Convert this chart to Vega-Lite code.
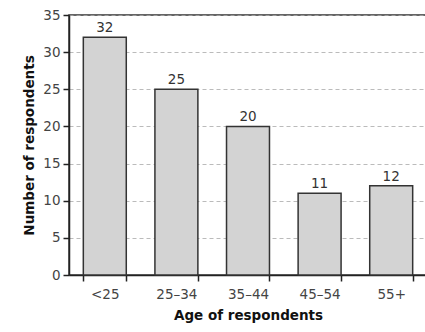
{
  "$schema": "https://vega.github.io/schema/vega-lite/v6.json",
  "autosize": {"type": "none"},
  "padding": {"left": 69, "top": 15, "right": 0, "bottom": 57},
  "width": 358,
  "height": 260,
  "data": {"values": [
    {"age": "<25", "n": 32},
    {"age": "25–34", "n": 25},
    {"age": "35–44", "n": 20},
    {"age": "45–54", "n": 11},
    {"age": "55+", "n": 12}
  ]},
  "config": {
    "font": "DejaVu Sans",
    "view": {"stroke": "#333", "strokeWidth": 1.5},
    "axis": {"labelColor": "#444", "titleColor": "#111", "domainColor": "#222", "tickColor": "#222", "labelFontSize": 13.5, "titleFontSize": 13.5, "titleFontWeight": "bold"}
  },
  "encoding": {
    "x": {"field": "age", "type": "nominal", "sort": null,
      "scale": {"paddingInner": 0.4, "paddingOuter": 0.2},
      "axis": {"title": "Age of respondents", "labelAngle": 0, "tickBand": "extent", "tickSize": 6, "labelPadding": 6, "titlePadding": 8, "domainWidth": 1.5, "tickWidth": 1.5}},
    "y": {"field": "n", "type": "quantitative",
      "scale": {"domain": [0, 35], "nice": false},
      "axis": {"title": "Number of respondents", "values": [0,5,10,15,20,25,30,35], "tickSize": 6, "labelPadding": 3, "titlePadding": 6, "domainWidth": 1.5, "tickWidth": 1.5, "grid": true, "gridDash": [4,3], "gridColor": "#aaa", "gridWidth": 0.8}}
  },
  "layer": [
    {"mark": {"type": "bar", "fill": "#d3d3d3", "stroke": "#333", "strokeWidth": 1.5}},
    {"mark": {"type": "text", "dy": -9, "fontSize": 13.5, "color": "#333"}, "encoding": {"text": {"field": "n"}}}
  ]
}
